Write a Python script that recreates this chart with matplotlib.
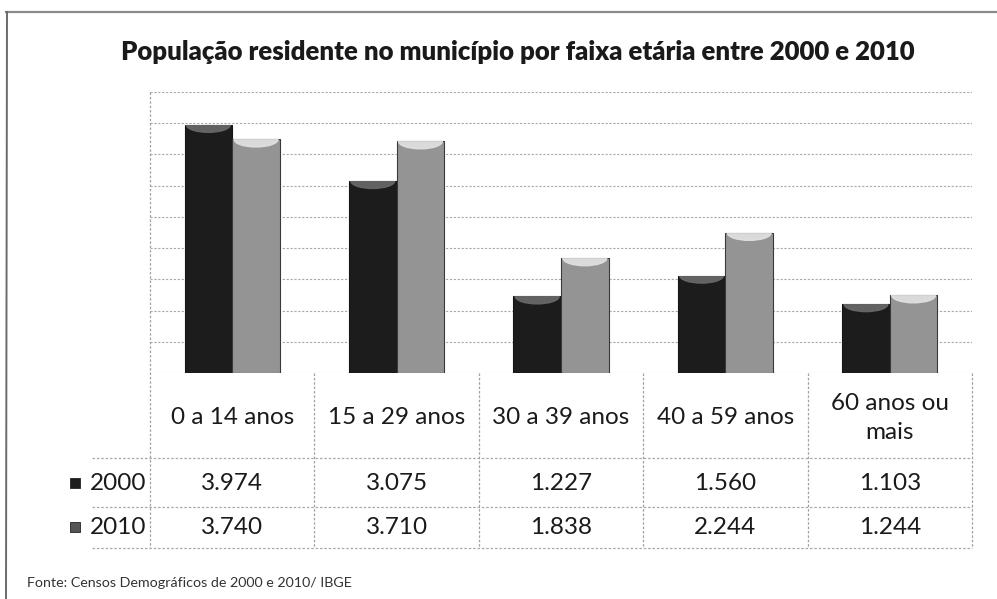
import matplotlib
matplotlib.use("Agg")
import matplotlib.pyplot as plt
from matplotlib.patches import Rectangle, Ellipse
from matplotlib.lines import Line2D
import numpy as np

# ---- data ----
categories = ["0 a 14 anos", "15 a 29 anos", "30 a 39 anos", "40 a 59 anos", "60 anos ou\nmais"]
series_names = ["2000", "2010"]
values_2000 = [3974, 3075, 1227, 1560, 1103]
values_2010 = [3740, 3710, 1838, 2244, 1244]
title = "População residente no município por faixa etária entre 2000 e 2010"
source = "Fonte: Censos Demográficos de 2000 e 2010/ IBGE"

W, H = 997, 599
fig = plt.figure(figsize=(W / 100, H / 100), dpi=100)
fig.patch.set_facecolor("white")

def fx(x):
    return x / W

def fy(y):
    return 1 - y / H

# plot area in pixels
L, R, T, B = 150, 972, 92, 373
ax = fig.add_axes([fx(L), fy(B), fx(R) - fx(L), fy(T) - fy(B)])
ax.set_xlim(0, len(categories))
ax.set_ylim(0, 4500)
for s in ax.spines.values():
    s.set_visible(False)
ax.set_xticks([])
ax.set_yticks([])
for yv in np.arange(0, 4501, 500):
    ax.axhline(yv, color="#a8a8a8", lw=0.8, ls=(0, (2, 1.5)), zorder=0)

dark = "#1c1c1c"
light = "#949494"
bw = 0.29
x = np.arange(len(categories)) + 0.5
b1 = ax.bar(x - bw / 2, values_2000, bw, color=dark, edgecolor="#151515", lw=0.8, zorder=2)
b2 = ax.bar(x + bw / 2, values_2010, bw, color=light, edgecolor="#3a3a3a", lw=0.8, zorder=2)

# 3D-like caps (lower half of an ellipse just below the flat top)
for bars, cap in ((b1, "#6a6a6a"), (b2, "#e2e2e2")):
    for rect in bars:
        cx = rect.get_x() + rect.get_width() / 2
        top = rect.get_height()
        e = Ellipse((cx, top), rect.get_width() * 0.92, 240, color=cap, zorder=3, alpha=0.9)
        ax.add_patch(e)
        e.set_clip_path(rect)

# left axis dashed line
fig.add_artist(Line2D([fx(L), fx(L)], [fy(T), fy(548)], color="#a0a0a0", lw=0.9, ls=(0, (2, 1.5))))

# ---- data table ----
col_w = (R - L) / len(categories)
row_lines = [458, 507, 548]
for yl in row_lines:
    fig.add_artist(Line2D([fx(92), fx(R)], [fy(yl), fy(yl)], color="#a8a8a8", lw=0.9, ls=(0, (2, 1.5))))
for i in range(1, len(categories) + 1):
    xl = L + i * col_w
    fig.add_artist(Line2D([fx(xl), fx(xl)], [fy(B), fy(548)], color="#a0a0a0", lw=0.9, ls=(0, (2, 1.5))))

tfont = ["Lato", "DejaVu Sans"]
fs = 17.5
for i, c in enumerate(categories):
    cx = L + (i + 0.5) * col_w
    fig.text(fx(cx), fy(418), c, ha="center", va="center", fontsize=fs,
             family=tfont, color="#1a1a1a", linespacing=1.5)
    fig.text(fx(cx), fy(483), f"{values_2000[i]:,}".replace(",", "."), ha="center", va="center",
             fontsize=fs, family=tfont, color="#1a1a1a")
    fig.text(fx(cx), fy(527), f"{values_2010[i]:,}".replace(",", "."), ha="center", va="center",
             fontsize=fs, family=tfont, color="#1a1a1a")

for yc, name, col in ((483, series_names[0], dark), (527, series_names[1], "#555555")):
    fig.add_artist(Rectangle((fx(70), fy(yc + 5)), fx(10), 10 / H, transform=fig.transFigure,
                             facecolor=col, edgecolor="#222222", lw=0.6))
    fig.text(fx(146), fy(yc), name, ha="right", va="center", fontsize=fs, family=tfont, color="#1a1a1a")

# title
fig.text(fx(518), fy(52), title, ha="center", va="center", fontsize=18.5, fontweight="heavy",
         family=tfont, color="#1a1a1a")

# source
fig.text(fx(27), fy(583), source, ha="left", va="center", fontsize=10.3, family=tfont, color="#333333")

# frame
fig.add_artist(Line2D([fx(6), fx(997)], [fy(12), fy(12)], color="#8a8a8a", lw=1.6))
fig.add_artist(Line2D([fx(7), fx(6)], [fy(12), fy(599)], color="#6a6a6a", lw=1.4))

fig.savefig("out.png", dpi=100, facecolor="white")
